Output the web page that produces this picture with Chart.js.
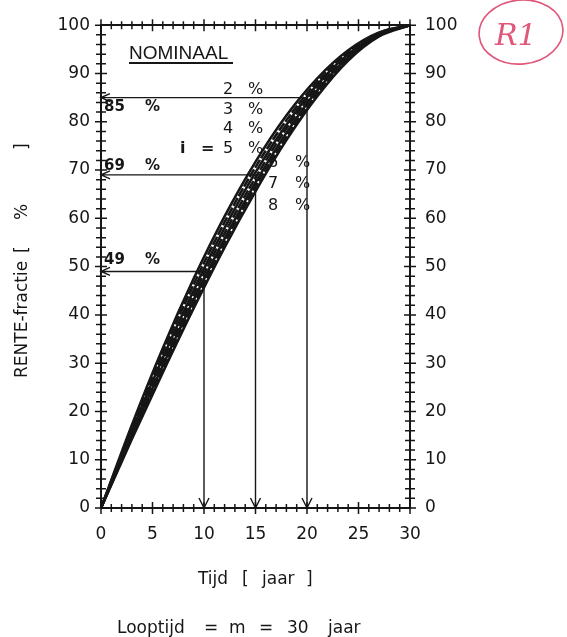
<!DOCTYPE html>
<html>
<head>
<meta charset="utf-8">
<title>Rente-fractie</title>
<script src="https://cdn.jsdelivr.net/npm/chart.js@4.4.0/dist/chart.umd.min.js"></script>
<style>
  html, body { margin: 0; padding: 0; background: #fff; }
  #wrap { width: 567px; height: 637px; position: relative; }
</style>
</head>
<body>
<div id="wrap"><canvas id="chart" width="567" height="637"></canvas></div>
<script>
// tijd in jaren (looptijd m = 30)
const years = [0, 3, 6, 9, 12, 15, 18, 21, 24, 27, 30];

// rente-fractie in % per nominale rente
const rate2 = [0, 17.2, 33.1, 47.5, 60.4, 71.7, 81.3, 89.0, 94.8, 98.5, 100];
const rate3 = [0, 16.6, 32.1, 46.3, 59.2, 70.6, 80.3, 88.3, 94.4, 98.4, 100];
const rate4 = [0, 16.0, 31.1, 45.1, 58.0, 69.5, 79.4, 87.7, 94.0, 98.2, 100];
const rate5 = [0, 15.5, 30.3, 44.1, 56.9, 68.4, 78.6, 87.1, 93.7, 98.1, 100];
const rate6 = [0, 15.1, 29.5, 43.1, 55.8, 67.4, 77.7, 86.5, 93.3, 98.0, 100];
const rate7 = [0, 14.7, 28.8, 42.2, 54.9, 66.5, 76.9, 85.9, 93.0, 97.9, 100];
const rate8 = [0, 14.3, 28.1, 41.4, 54.0, 65.6, 76.2, 85.3, 92.7, 97.7, 100];
const rateNames = ['2 %', '3 %', '4 %', '5 %', '6 %', '7 %', '8 %'];

// afleeslijnen
const readYears = [10, 15, 20];
const readPct = [49, 69, 85];

// assen
const xMin = 0, xMax = 30, xMajor = 5, xMinor = 1;
const yMin = 0, yMax = 100, yMajor = 10, yMinor = 2;

const INK = '#161616';
const series = [rate2, rate3, rate4, rate5, rate6, rate7, rate8];
const dashes = [[], [9, 2], [], [9, 2], [], [9, 2], []];

const datasets = series.map((s, k) => ({
  label: rateNames[k],
  data: years.map((t, j) => ({ x: t, y: s[j] })),
  borderColor: INK,
  borderWidth: 2.6,
  borderDash: dashes[k],
  pointRadius: 0,
  fill: false,
  cubicInterpolationMode: 'monotone'
}));

function drawPieces(ctx, pieces, baseline) {
  pieces.forEach(p => ctx.fillText(p[0], p[1], baseline));
}

// kruisende streepjes op alle vier de assen
const crossTicks = {
  id: 'crossTicks',
  afterDraw(chart) {
    const { ctx, chartArea: a, scales: { x, y } } = chart;
    ctx.save();
    ctx.strokeStyle = INK;
    ctx.lineWidth = 1.5;
    ctx.beginPath();
    for (let v = xMin; v <= xMax; v += xMinor) {
      const px = x.getPixelForValue(v);
      const h = v % xMajor === 0 ? 6 : 4;
      ctx.moveTo(px, a.bottom - h); ctx.lineTo(px, a.bottom + h);
      ctx.moveTo(px, a.top - h); ctx.lineTo(px, a.top + h);
    }
    for (let v = yMin; v <= yMax; v += yMinor) {
      const py = y.getPixelForValue(v);
      const h = v % yMajor === 0 ? 6 : 5;
      ctx.moveTo(a.left - h, py); ctx.lineTo(a.left + h, py);
      ctx.moveTo(a.right - h, py); ctx.lineTo(a.right + h, py);
    }
    ctx.stroke();
    ctx.restore();
  }
};

// pijlen en teksten
const annotations = {
  id: 'annotations',
  afterDraw(chart) {
    const { ctx, chartArea: a, scales: { x, y } } = chart;
    ctx.save();
    ctx.strokeStyle = INK;
    ctx.fillStyle = INK;
    ctx.lineWidth = 1.4;

    readYears.forEach((t, k) => {
      const px = x.getPixelForValue(t);
      const py = y.getPixelForValue(readPct[k]);
      const x0 = x.getPixelForValue(0);
      const y0 = y.getPixelForValue(0);
      ctx.beginPath();
      ctx.moveTo(px, py); ctx.lineTo(x0, py);
      ctx.moveTo(x0 + 9, py - 4); ctx.lineTo(x0, py); ctx.lineTo(x0 + 9, py + 4);
      ctx.moveTo(px, py); ctx.lineTo(px, y0);
      ctx.moveTo(px - 5, y0 - 10); ctx.lineTo(px, y0); ctx.lineTo(px + 5, y0 - 10);
      ctx.stroke();
    });

    // vette percentages bij de pijlen
    ctx.font = 'bold 15px "DejaVu Sans"';
    ctx.textBaseline = 'middle';
    const offs = [-11, -9, 9];
    readPct.forEach((p, k) => {
      const py = y.getPixelForValue(p) + offs[k];
      ctx.fillText(String(p), 104, py);
      ctx.fillText('%', 145, py);
    });

    // NOMINAAL
    ctx.textBaseline = 'alphabetic';
    ctx.font = '19px "Liberation Sans"';
    ctx.fillText('NOMINAAL', 129, 59);
    ctx.lineWidth = 2;
    ctx.beginPath();
    ctx.moveTo(129, 63); ctx.lineTo(233, 63);
    ctx.stroke();

    // rentelabels
    ctx.font = '16px "DejaVu Sans"';
    const rows = [88, 108, 127, 147, 161, 182, 204];
    rateNames.forEach((name, k) => {
      const digit = name.split(' ')[0];
      const left = k < 4;
      const bx = left ? 223 : 268;
      const pctX = left ? 248 : 295;
      ctx.fillText(digit, bx, rows[k] + 6);
      ctx.fillText('%', pctX, rows[k] + 6);
    });
    ctx.font = 'bold 16px "DejaVu Sans"';
    ctx.fillText('i', 180, rows[3] + 6);
    ctx.fillText('=', 201, rows[3] + 6);

    // astitels
    ctx.font = '17px "DejaVu Sans"';
    drawPieces(ctx, [['Tijd', 198], ['[', 242], ['jaar', 262], [']', 306]], 584);
    drawPieces(ctx, [['Looptijd', 117], ['=', 204], ['m', 229], ['=', 259],
                     ['30', 287], ['jaar', 328]], 633);

    ctx.save();
    ctx.translate(21, 0);
    ctx.rotate(-Math.PI / 2);
    ctx.font = '17px "DejaVu Sans"';
    drawPieces(ctx, [['RENTE-fractie', -378], ['[', -253], ['%', -220], [']', -150]], 6);
    ctx.restore();

    // stempel rechtsboven
    ctx.strokeStyle = '#e0577a';
    ctx.fillStyle = '#e0577a';
    ctx.lineWidth = 1.6;
    ctx.beginPath();
    ctx.ellipse(521, 32, 42, 32, -0.1, 0, Math.PI * 2);
    ctx.stroke();
    ctx.font = 'italic 30px "DejaVu Serif"';
    ctx.fillText('R1', 495, 45);

    ctx.restore();
  }
};

const tickFont = { family: 'DejaVu Sans', size: 17 };

new Chart(document.getElementById('chart'), {
  type: 'line',
  data: { datasets },
  options: {
    responsive: false,
    animation: false,
    events: [],
    layout: { padding: 0 },
    plugins: { legend: { display: false }, tooltip: { enabled: false } },
    scales: {
      x: {
        type: 'linear', position: 'bottom', min: xMin, max: xMax,
        grid: { display: false, drawTicks: false, tickLength: 0 },
        border: { display: true, color: INK, width: 2 },
        ticks: { stepSize: xMajor, font: tickFont, color: INK, padding: 16, maxRotation: 0 },
        afterFit: s => { s.height = 637 - 508; }
      },
      xTop: {
        type: 'linear', position: 'top', min: xMin, max: xMax,
        grid: { display: false, drawTicks: false, tickLength: 0 },
        border: { display: true, color: INK, width: 2 },
        ticks: { display: false },
        afterFit: s => { s.height = 21; }
      },
      y: {
        type: 'linear', position: 'left', min: yMin, max: yMax,
        grid: { display: false, drawTicks: false, tickLength: 0 },
        border: { display: true, color: INK, width: 2 },
        ticks: { stepSize: yMajor, font: tickFont, color: INK, padding: 11 },
        afterFit: s => { s.width = 101; }
      },
      yRight: {
        type: 'linear', position: 'right', min: yMin, max: yMax,
        grid: { display: false, drawTicks: false, tickLength: 0 },
        border: { display: true, color: INK, width: 2 },
        ticks: { stepSize: yMajor, font: tickFont, color: INK, padding: 15 },
        afterFit: s => { s.width = 567 - 410; }
      }
    }
  },
  plugins: [crossTicks, annotations]
});
</script>
</body>
</html>
